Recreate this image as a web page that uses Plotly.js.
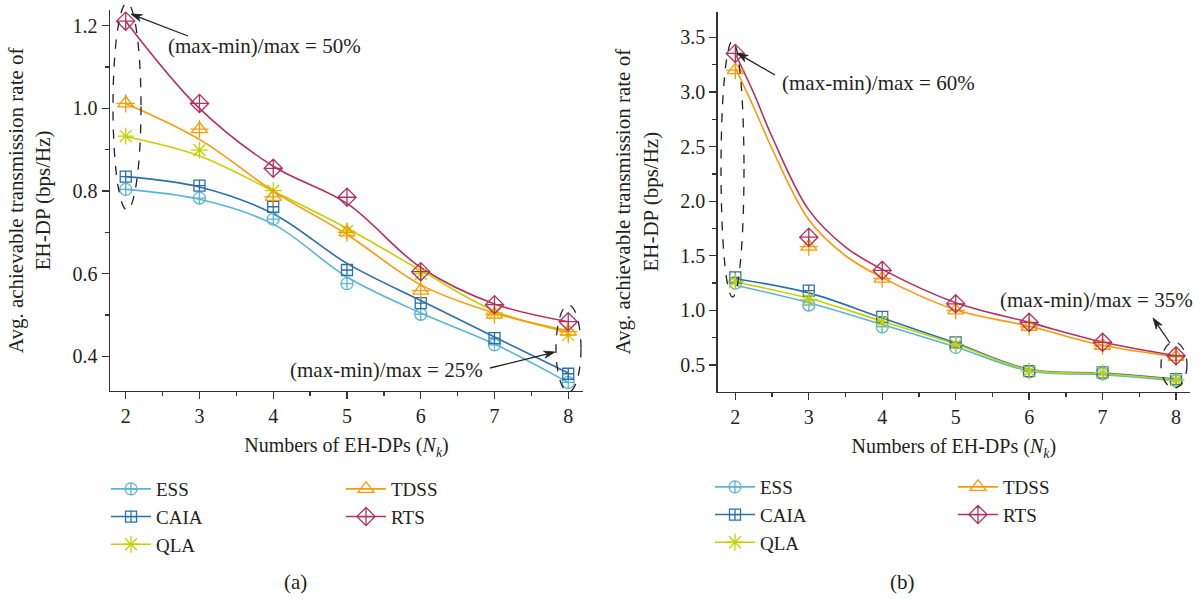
<!DOCTYPE html>
<html>
<head>
<meta charset="utf-8">
<script src="https://cdn.plot.ly/plotly-3.0.1.min.js"></script>
<style>html,body{margin:0;padding:0;background:#fff;}#chart{width:1203px;height:599px;}</style>
</head>
<body>
<div id="chart"></div>
<script>
// ---------- data ----------
const nodes = [2, 3, 4, 5, 6, 7, 8];
const seriesNames = ['ESS', 'CAIA', 'QLA', 'TDSS', 'RTS'];

// (a) measured points
const aESS  = [0.804, 0.783, 0.732, 0.576, 0.502, 0.428, 0.337];
const aCAIA = [0.835, 0.813, 0.762, 0.609, 0.529, 0.444, 0.358];
const aQLA  = [0.933, 0.899, 0.801, 0.703, 0.600, 0.505, 0.452];
const aTDSS = [1.012, 0.950, 0.786, 0.700, 0.559, 0.501, 0.460];
const aRTS  = [1.211, 1.012, 0.855, 0.785, 0.605, 0.525, 0.484];
// (a) fitted curves
const aFitESS  = [0.804, 0.780, 0.720, 0.592, 0.505, 0.430, 0.337];
const aFitCAIA = [0.835, 0.810, 0.745, 0.625, 0.535, 0.447, 0.360];
const aFitQLA  = [0.932, 0.885, 0.800, 0.710, 0.608, 0.510, 0.458];
const aFitTDSS = [1.012, 0.925, 0.800, 0.695, 0.573, 0.505, 0.462];
const aFitRTS  = [1.211, 1.000, 0.860, 0.770, 0.615, 0.527, 0.484];

// (b) measured points
const bESS  = [1.250, 1.049, 0.850, 0.661, 0.440, 0.420, 0.355];
const bCAIA = [1.302, 1.180, 0.941, 0.707, 0.444, 0.432, 0.370];
const bQLA  = [1.262, 1.100, 0.896, 0.689, 0.444, 0.430, 0.362];
const bTDSS = [3.200, 1.583, 1.290, 1.000, 0.850, 0.676, 0.575];
const bRTS  = [3.353, 1.670, 1.366, 1.060, 0.890, 0.707, 0.584];
// (b) fitted curves
const bFitESS  = [1.230, 1.070, 0.870, 0.665, 0.445, 0.410, 0.355];
const bFitCAIA = [1.290, 1.160, 0.930, 0.700, 0.460, 0.425, 0.370];
const bFitQLA  = [1.260, 1.110, 0.900, 0.690, 0.455, 0.420, 0.365];
const bFitNodesTop = [2, 2.25, 2.5, 3, 3.5, 4, 5, 6, 7, 8];
const bFitTDSS = [3.220, 2.860, 2.480, 1.830, 1.500, 1.300, 1.005, 0.855, 0.680, 0.575];
const bFitRTS  = [3.350, 2.990, 2.590, 1.920, 1.580, 1.375, 1.070, 0.890, 0.710, 0.585];

const xTicks = [2, 3, 4, 5, 6, 7, 8];

// ---------- styles ----------
const colors = {ESS: '#5ab4d6', CAIA: '#2a6fae', QLA: '#c3d100', TDSS: '#fb9a06', RTS: '#b4305f'};
const symbols = {ESS: 'circle-cross-open', CAIA: 'square-cross-open', QLA: 'asterisk-open', TDSS: 'triangle-up-open', RTS: 'diamond-cross-open'};
const sizes = {ESS: 12, CAIA: 11, QLA: 14, TDSS: 14, RTS: 14};
const FONT = 'Liberation Serif';
const TXT = '#231f20';
const W = 1203, H = 599;
const px = v => v / W;
const py = v => 1 - v / H;

const pointsA = {ESS: aESS, CAIA: aCAIA, QLA: aQLA, TDSS: aTDSS, RTS: aRTS};
const fitsA = {ESS: aFitESS, CAIA: aFitCAIA, QLA: aFitQLA, TDSS: aFitTDSS, RTS: aFitRTS};
const pointsB = {ESS: bESS, CAIA: bCAIA, QLA: bQLA, TDSS: bTDSS, RTS: bRTS};
const fitsB = {ESS: bFitESS, CAIA: bFitCAIA, QLA: bFitQLA, TDSS: bFitTDSS, RTS: bFitRTS};
const fitXB = {ESS: nodes, CAIA: nodes, QLA: nodes, TDSS: bFitNodesTop, RTS: bFitNodesTop};

const traces = [];
function addPanel(points, fits, fitX, xa, ya, legA, legB) {
  seriesNames.forEach(n => {
    traces.push({x: fitX[n], y: fits[n], xaxis: xa, yaxis: ya, mode: 'lines', type: 'scatter',
      line: {color: colors[n], width: 1.6, shape: 'spline', smoothing: 1}, showlegend: false, hoverinfo: 'skip'});
  });
  seriesNames.forEach(n => {
    traces.push({x: nodes, y: points[n], xaxis: xa, yaxis: ya, mode: 'markers', type: 'scatter', name: n,
      marker: {symbol: symbols[n], size: sizes[n], color: colors[n], line: {color: colors[n], width: 1.3}}, showlegend: false});
    if (n === 'TDSS') {
      traces.push({x: nodes, y: points[n], xaxis: xa, yaxis: ya, mode: 'markers', type: 'scatter', name: n,
        marker: {symbol: 'cross-thin-open', size: 13, color: colors[n], line: {color: colors[n], width: 1.3}}, showlegend: false, hoverinfo: 'skip'});
    }
  });
  // legend-only entries (no data of their own)
  seriesNames.forEach((n, i) => {
    traces.push({x: [null], y: [null], xaxis: xa, yaxis: ya, mode: 'lines+markers', type: 'scatter', name: n,
      legend: i < 3 ? legA : legB, showlegend: true,
      line: {color: colors[n], width: 1.6},
      marker: {symbol: symbols[n], size: sizes[n], color: colors[n], line: {color: colors[n], width: 1.3}}});
  });
}
addPanel(pointsA, fitsA, {ESS: nodes, CAIA: nodes, QLA: nodes, TDSS: nodes, RTS: nodes}, 'x', 'y', 'legend', 'legend2');
addPanel(pointsB, fitsB, fitXB, 'x2', 'y2', 'legend3', 'legend4');

const axisCommon = {
  showline: true, linecolor: '#333', linewidth: 1.5, showgrid: false, zeroline: false,
  ticks: 'outside', ticklen: 7, tickwidth: 1.3, tickcolor: '#333',
  tickfont: {family: FONT, size: 20, color: TXT}, mirror: false
};
const xTitle = {text: 'Numbers of EH-DPs (<i>N</i><sub><i>k</i></sub>)', font: {family: FONT, size: 20, color: TXT}, standoff: 12};
const yTitle = {text: 'Avg. achievable transmission rate of<br>EH-DP (bps/Hz)', font: {family: FONT, size: 21, color: TXT}, standoff: 16};

function legendDef(x, y) {
  return {x: px(x), y: py(y), xanchor: 'left', yanchor: 'top', bgcolor: 'rgba(0,0,0,0)',
    font: {family: FONT, size: 19, color: TXT}, traceorder: 'normal', itemwidth: 40};
}

const annFont = {family: FONT, size: 21, color: TXT};
function txt(x, y, t) {
  return {xref: 'paper', yref: 'paper', x: px(x), y: py(y), text: t, showarrow: false, xanchor: 'center', yanchor: 'middle', font: annFont};
}
// arrow drawn as two shapes: shaft line + barbed head (pixel positions -> paper)
function arrowShapes(hx, hy, tx, ty) {
  const dx = hx - tx, dy = hy - ty, len = Math.hypot(dx, dy);
  const ux = dx / len, uy = dy / len, nx = -uy, ny = ux;
  const L = 11, w = 3.6;
  const bx = hx - L * ux, by = hy - L * uy;
  const p1 = [bx + w * nx, by + w * ny], p2 = [bx - w * nx, by - w * ny];
  const nt = [hx - 0.7 * L * ux, hy - 0.7 * L * uy];
  const P = p => px(p[0]) + ',' + py(p[1]);
  return [
    {type: 'line', xref: 'paper', yref: 'paper', x0: px(tx), y0: py(ty), x1: px(nt[0]), y1: py(nt[1]),
      line: {color: '#222', width: 1.3}},
    {type: 'path', xref: 'paper', yref: 'paper', path: 'M' + P([hx, hy]) + ' L' + P(p1) + ' L' + P(nt) + ' L' + P(p2) + ' Z',
      fillcolor: '#222', line: {color: '#222', width: 0.8}}
  ];
}
function ell(x0, x1, y0, y1) {
  return {type: 'circle', xref: 'paper', yref: 'paper', x0: px(x0), x1: px(x1), y0: py(y1), y1: py(y0),
    line: {color: '#222', width: 1.3, dash: 'dash'}, fillcolor: 'rgba(0,0,0,0)'};
}

const layout = {
  width: W, height: H, margin: {l: 0, r: 0, t: 0, b: 0}, paper_bgcolor: '#fff', plot_bgcolor: '#fff',
  showlegend: true,
  xaxis: Object.assign({}, axisCommon, {domain: [px(110), px(583)], anchor: 'y', range: [1.787, 8.2],
    tickvals: xTicks, minor: {dtick: 0.5, ticks: 'outside', ticklen: 4, tickcolor: '#333'}, title: xTitle}),
  yaxis: Object.assign({}, axisCommon, {domain: [py(390.7), py(10)], anchor: 'x', range: [0.317, 1.238],
    dtick: 0.2, tick0: 0, tickformat: '.1f', minor: {dtick: 0.1, ticks: 'outside', ticklen: 4, tickcolor: '#333'}, title: yTitle}),
  xaxis2: Object.assign({}, axisCommon, {domain: [px(717.7), px(1190)], anchor: 'y2', range: [1.76, 8.19],
    tickvals: xTicks, minor: {dtick: 0.5, ticks: 'outside', ticklen: 4, tickcolor: '#333'}, title: xTitle}),
  yaxis2: Object.assign({}, axisCommon, {domain: [py(391.7), py(11.7)], anchor: 'x2', range: [0.255, 3.735],
    dtick: 0.5, tick0: 0, tickformat: '.1f', minor: {dtick: 0.25, ticks: 'outside', ticklen: 4, tickcolor: '#333'}, title: yTitle}),
  legend: legendDef(106, 470),
  legend2: legendDef(341, 470),
  legend3: legendDef(710, 468),
  legend4: legendDef(953, 468),
  annotations: [
    txt(264, 46, '(max-min)/max = 50%'),
    txt(386, 370, '(max-min)/max = 25%'),
    txt(878, 83, '(max-min)/max = 60%'),
    txt(1096, 300, '(max-min)/max = 35%'),
    txt(295, 582, '(a)'),
    txt(902, 582, '(b)')
  ],
  shapes: [
    ell(113, 141, 3, 210),
    ell(556, 581, 305, 392),
    ell(721, 744, 41, 297),
    ell(1161, 1187, 342, 388)
  ].concat(arrowShapes(131, 14, 188, 36), arrowShapes(555, 352, 490, 368),
           arrowShapes(737, 53, 775, 75), arrowShapes(1153, 318, 1170, 343))
};

Plotly.newPlot('chart', traces, layout, {displayModeBar: false, staticPlot: true});
</script>
</body>
</html>
